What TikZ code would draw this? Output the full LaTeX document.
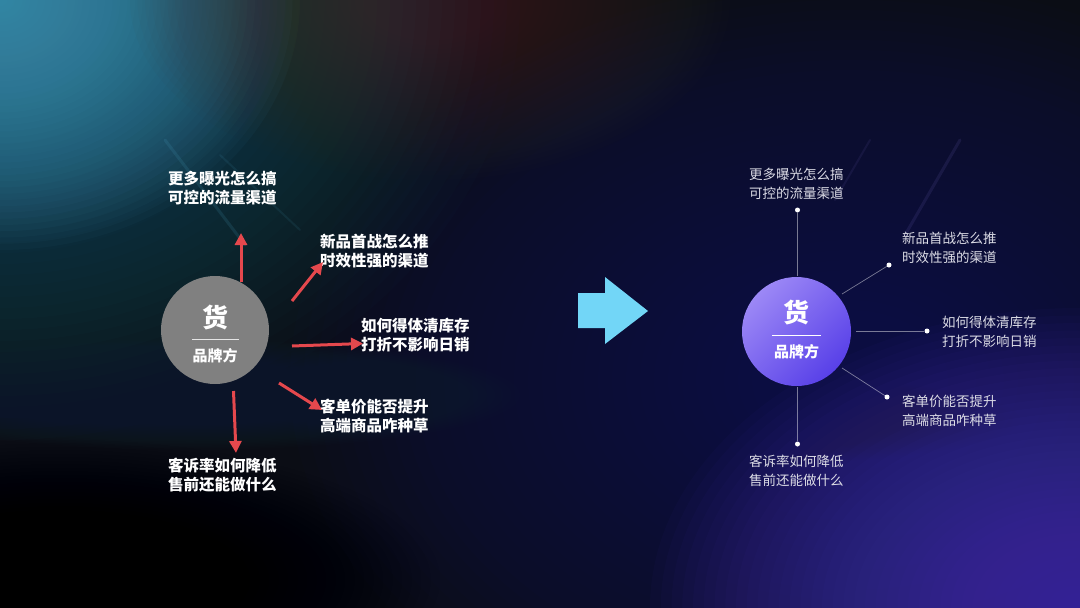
\documentclass[tikz,border=0pt]{standalone}
\usepackage{fontspec}
\newfontfamily\cjk{Noto Sans CJK SC}
\usetikzlibrary{arrows.meta}
\definecolor{bgbase}{HTML}{0B0D15}
\definecolor{tealglow}{HTML}{4AA3C4}
\definecolor{brownglow}{HTML}{4A3228}
\definecolor{purpleglow}{HTML}{4A38B8}
\definecolor{navyglow}{HTML}{24215A}
\definecolor{bandglow}{HTML}{34465A}
\definecolor{arrred}{HTML}{E5484D}
\definecolor{bigarrow}{HTML}{72D6F7}
\definecolor{circgray}{HTML}{808080}
\definecolor{purpA}{HTML}{9C88F6}
\definecolor{purpB}{HTML}{5840E8}
\definecolor{righttext}{HTML}{DCDCE6}
\newcommand\softglow[6]{%
  \foreach \k in {1,...,40}{%
    \fill[#1, opacity=#6] (#2,#3) ellipse [x radius={#4/40*\k}, y radius={#5/40*\k}];%
  }%
}
\tikzset{
  lefttxt/.style={font=\cjk\bfseries\fontsize{15.5}{19}\selectfont, text=white, align=left, anchor=west, inner sep=0pt},
  righttxt/.style={font=\cjk\fontsize{13.5}{19}\selectfont, text=righttext, align=left, anchor=west, inner sep=0pt},
  redarrow/.style={draw=arrred, line width=3pt, -{Triangle[length=12pt,width=12pt]}},
  thinline/.style={draw=white, draw opacity=0.45, line width=0.7pt},
  dotnode/.style={circle, fill=white, inner sep=0pt, minimum size=5pt},
  bigchar/.style={font=\cjk\bfseries\fontsize{26}{26}\selectfont, text=white, inner sep=0pt},
  subchar/.style={font=\cjk\bfseries\fontsize{15}{15}\selectfont, text=white, inner sep=0pt}
}
\begin{document}
\begin{tikzpicture}[x=1pt,y=-1pt]
\useasboundingbox (0,0) rectangle (1080,608);
% background
\fill[bgbase] (0,0) rectangle (1080,608);
\begin{scope}
\clip (0,0) rectangle (1080,608);
\softglow{navyglow}{850}{380}{560}{400}{0.04}
\softglow{purpleglow}{1080}{608}{430}{300}{0.045}
\softglow{tealglow}{0}{0}{520}{440}{0.014}
\softglow{tealglow}{0}{0}{300}{250}{0.04}
\softglow{brownglow}{430}{0}{300}{180}{0.032}
\softglow{bandglow}{190}{395}{330}{55}{0.02}
\softglow{bandglow}{720}{420}{300}{45}{0.016}
\softglow{black}{60}{580}{380}{140}{0.025}
% faint streaks
\draw[line width=3pt, color=tealglow, opacity=0.15, line cap=round] (165,140) -- (245,245);
\draw[line width=2pt, color=tealglow, opacity=0.10, line cap=round] (220,155) -- (300,230);
\draw[line width=3pt, color=purpA, opacity=0.10, line cap=round] (960,140) -- (905,235);
\draw[line width=2pt, color=purpA, opacity=0.08, line cap=round] (870,140) -- (835,200);
\end{scope}

% ===== left diagram =====
\node[circle, fill=circgray, minimum size=108pt, inner sep=0pt] (L) at (215,330) {};
\node[bigchar] (Lh) at (215,317) {货};
\coordinate (Lla) at (192,339);
\coordinate (Llb) at (239,339);
\draw[white!80!gray, line width=1pt] (Lla) -- (Llb);
\node[subchar] (Lp) at (215,356) {品牌方};

\node[lefttxt] (T1) at (168,188.5) {更多曝光怎么搞\\可控的流量渠道};
\node[lefttxt] (T2) at (320,251) {新品首战怎么推\\时效性强的渠道};
\node[lefttxt] (T3) at (361,335.5) {如何得体清库存\\打折不影响日销};
\node[lefttxt] (T4) at (320,416) {客单价能否提升\\高端商品咋种草};
\node[lefttxt] (T5) at (168,475) {客诉率如何降低\\售前还能做什么};

\coordinate (a1s) at (241,282); \coordinate (a1e) at (241,233);
\coordinate (a2s) at (292,301); \coordinate (a2e) at (323,262);
\coordinate (a3s) at (292,346); \coordinate (a3e) at (363,343.5);
\coordinate (a4s) at (279,383); \coordinate (a4e) at (322,410);
\coordinate (a5s) at (233.5,391); \coordinate (a5e) at (236,453);
\draw[redarrow] (a1s) -- (a1e);
\draw[redarrow] (a2s) -- (a2e);
\draw[redarrow] (a3s) -- (a3e);
\draw[redarrow] (a4s) -- (a4e);
\draw[redarrow] (a5s) -- (a5e);

% ===== big arrow =====
\fill[bigarrow] (578,293) -- (605,293) -- (605,277) -- (648,311) -- (605,344) -- (605,328) -- (578,328) -- cycle;

% ===== right diagram =====
\shade[top color=purpA, bottom color=purpB, shading angle=45] (796.5,331.5) circle (54.5);
\node[circle, minimum size=109pt, inner sep=0pt] (R) at (796.5,331.5) {};
\node[bigchar] (Rh) at (796.5,312) {货};
\coordinate (Rla) at (772,335);
\coordinate (Rlb) at (821,335);
\draw[white, line width=1pt] (Rla) -- (Rlb);
\node[subchar] (Rp) at (796.5,352) {品牌方};

\node[dotnode] (d1) at (797.5,210) {};
\node[dotnode] (d2) at (889,265) {};
\node[dotnode] (d3) at (927,331) {};
\node[dotnode] (d4) at (887,397) {};
\node[dotnode] (d5) at (797.5,444) {};
\coordinate (r1) at (797.5,276);
\coordinate (r2) at (842,294);
\coordinate (r3) at (856,331);
\coordinate (r4) at (842,368);
\coordinate (r5) at (797.5,387);
\draw[thinline] (r1) -- (d1);
\draw[thinline] (r2) -- (d2);
\draw[thinline] (r3) -- (d3);
\draw[thinline] (r4) -- (d4);
\draw[thinline] (r5) -- (d5);

\node[righttxt] (U1) at (749,183.5) {更多曝光怎么搞\\可控的流量渠道};
\node[righttxt] (U2) at (902,247.5) {新品首战怎么推\\时效性强的渠道};
\node[righttxt] (U3) at (942,331.5) {如何得体清库存\\打折不影响日销};
\node[righttxt] (U4) at (902,410.5) {客单价能否提升\\高端商品咋种草};
\node[righttxt] (U5) at (749,470.5) {客诉率如何降低\\售前还能做什么};
\end{tikzpicture}
\end{document}
